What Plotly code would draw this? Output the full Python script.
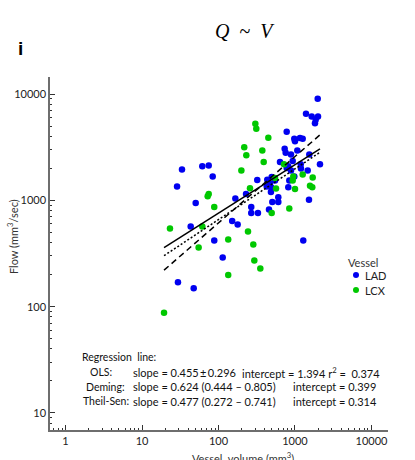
import plotly.graph_objects as go
import numpy as np

# ---------------- data ----------------
lad_volume = [1981, 1393, 1653, 2000, 1865, 1825, 779, 979, 1000, 1162, 1261, 733, 755,
              1072, 887, 1538, 637, 933, 2122, 1188, 817, 779, 887, 1197, 1466, 979, 434,
              842, 471, 427, 490, 817, 1524, 505, 605, 605, 61.4, 74.5, 33.3, 84, 321,
              28.7, 229, 166, 50.3, 268, 268, 328, 151, 178, 43.3, 88, 113.5, 29.5, 47.4,
              457, 1283, 496, 548, 485]
lad_flow = [9020, 6520, 6150, 6150, 5730, 5320, 4420, 3800, 3600, 3850, 3800, 3060, 2800,
            2950, 2700, 2700, 2290, 2340, 2180, 2180, 2090, 2010, 1910, 1990, 1910, 1680, 1560,
            1540, 1440, 1350, 1320, 1330, 1015, 964, 964, 1070, 2090, 2130, 1950, 1680, 1550,
            1350, 1150, 1040, 944, 865, 760, 760, 640, 592, 566, 419, 290, 170, 149,
            818, 419, 1660, 1540, 1200]

lcx_volume = [303, 312, 217, 374, 231, 390, 199, 258, 74.5, 72.2, 448, 718, 1261, 950, 548,
              1703, 933, 1571, 1683, 565, 1000, 88, 61.4, 23.2, 243, 134, 285, 55, 294,
              352, 134, 19.4, 842, 496]
lcx_flow = [5250, 4710, 3150, 2950, 2650, 2290, 1910, 1300, 1150, 1090, 3880, 2180, 1750,
            1680, 1620, 1640, 1540, 1370, 1330, 1290, 1280, 865, 566, 542, 508, 428, 384,
            360, 272, 229, 198, 87.5, 836, 760]

vessel_names = ["LAD", "LCX"]
vessel_colors = ["#0000f0", "#00c800"]

# regression lines in log10 space: log10(Q) = intercept + slope * log10(V)
fit_names = ["OLS", "Deming", "Theil-Sen"]
fit_slopes = [0.455, 0.624, 0.477]
fit_intercepts = [1.97, 1.54, 1.865]
fit_dash = ["solid", "6px,4px", "2px,2px"]

x_tick_vals = [1, 10, 100, 1000, 10000]
y_tick_vals = [10, 100, 1000, 10000]
minor_vals = [m * 10 ** e for e in range(-1, 5) for m in range(2, 10)]

# ---------------- figure ----------------
W, H = 415, 460
ML, MR, MT, MB = 50, 27, 77, 30
PW, PH = W - ML - MR, H - MT - MB


def px(x):
    return (x - ML) / PW


def py(y):
    return (H - MB - y) / PH


FONT = "Lato"
fig = go.Figure()

series = [(lad_volume, lad_flow), (lcx_volume, lcx_flow)]
for (vx, vy), nm, col in zip(series, vessel_names, vessel_colors):
    fig.add_trace(go.Scatter(x=vx, y=vy, mode="markers", name=nm, showlegend=False,
                             marker=dict(color=col, size=6.5, line=dict(width=0))))

all_v = np.array(lad_volume + lcx_volume)
lv = np.linspace(np.log10(all_v.min()), np.log10(all_v.max()), 50)
for name, s, b, d in zip(fit_names, fit_slopes, fit_intercepts, fit_dash):
    fig.add_trace(go.Scatter(x=10 ** lv, y=10 ** (b + s * lv), mode="lines",
                             line=dict(color="black", width=1.5, dash=d),
                             showlegend=False, hoverinfo="skip", name=name))

axis_common = dict(type="log", showgrid=False, zeroline=False, showline=True,
                   linecolor="#6e6e6e", linewidth=1.5, ticks="inside", ticklen=5,
                   tickwidth=1, tickcolor="#333333", mirror=False,
                   tickfont=dict(family=FONT, size=11, color="#222222"),
                   minor=dict(ticks="inside", ticklen=2.5, tickcolor="#333333",
                              tickvals=minor_vals, showgrid=False))

fig.update_xaxes(**axis_common, range=[-0.203, 4.216], tickmode="array",
                 tickvals=x_tick_vals, ticktext=[str(v) for v in x_tick_vals])
fig.update_yaxes(**axis_common, range=[0.84, 4.16], tickmode="array",
                 tickvals=y_tick_vals, ticktext=[str(v) for v in y_tick_vals])

ann = []
ann.append(dict(text="<i>Q</i>  ~  <i>V</i>", x=px(245), y=py(31), xanchor="center",
                yanchor="middle", font=dict(family="Liberation Serif", size=20, color="black")))
ann.append(dict(text="<b>i</b>", x=px(20), y=py(48), xanchor="center", yanchor="middle",
                font=dict(family="Liberation Sans", size=19, color="black")))
ann.append(dict(text="Flow (mm<sup>3</sup>/sec)", x=px(12), y=py(237), textangle=-90,
                xanchor="center", yanchor="middle",
                font=dict(family=FONT, size=11, color="#333333")))
ann.append(dict(text="Vessel  volume (mm<sup>3</sup>)", x=px(243), y=py(448),
                xanchor="center", yanchor="top",
                font=dict(family=FONT, size=11, color="#333333")))

lab_font = dict(family=FONT, size=10.5, color="#111111")
num_font = dict(family=FONT, size=11, color="#111111")
ann.append(dict(text="Regression  line:", x=px(80), y=py(357), xanchor="left",
                yanchor="middle", font=lab_font))
rows = [
    ("OLS:", "slope = 0.455\u2009±\u20090.296", "intercept = 1.394 r<sup>2</sup> =  0.374", 88, 240),
    ("Deming:", "slope = 0.624 (0.444 – 0.805)", "intercept = 0.399", 84, 291),
    ("Theil-Sen:", "slope = 0.477 (0.272 – 0.741)", "intercept = 0.314", 81, 291),
]
for i, (lab, sl, ic, lx, icx) in enumerate(rows):
    yy = py(372 + 14.7 * i)
    ann.append(dict(text=lab, x=px(lx), y=yy, xanchor="left", yanchor="middle", font=lab_font))
    ann.append(dict(text=sl, x=px(131), y=yy, xanchor="left", yanchor="middle", font=num_font))
    ann.append(dict(text=ic, x=px(icx), y=yy, xanchor="left", yanchor="middle", font=num_font))

# legend (drawn by hand to match the compact reference layout)
lf = dict(family=FONT, size=11, color="#222222")
ann.append(dict(text="Vessel", x=px(346), y=py(262), xanchor="left", yanchor="middle",
                font=dict(family=FONT, size=11, color="#333333")))
shapes = []
for k, (nm, col) in enumerate(zip(vessel_names, vessel_colors)):
    yy = 275 + 15 * k
    ann.append(dict(text=nm, x=px(363), y=py(yy), xanchor="left", yanchor="middle", font=lf))
    shapes.append(dict(type="circle", xref="paper", yref="paper", xsizemode="pixel",
                       ysizemode="pixel", xanchor=px(356), yanchor=py(yy),
                       x0=-3, x1=3, y0=-3, y1=3, fillcolor=col, line=dict(width=0)))

for a in ann:
    a.update(xref="paper", yref="paper", showarrow=False)

fig.update_layout(
    width=W, height=H, margin=dict(l=ML, r=MR, t=MT, b=MB),
    paper_bgcolor="white", plot_bgcolor="white",
    annotations=ann, shapes=shapes,
    showlegend=False,
)

fig.write_html("out.html")
